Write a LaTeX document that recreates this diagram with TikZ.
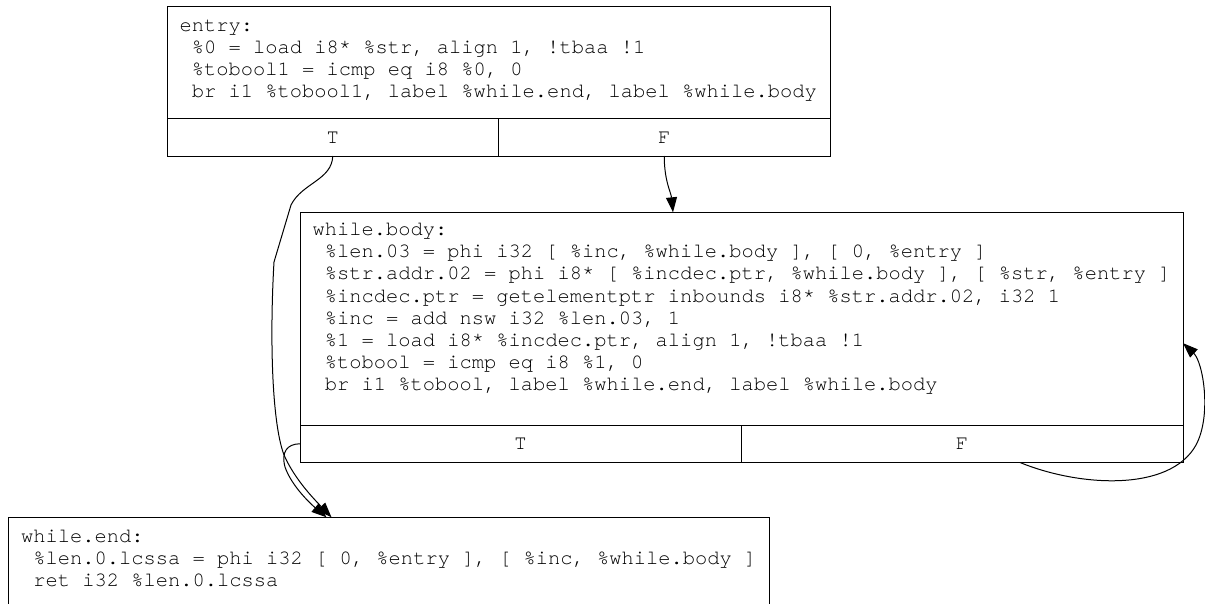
\documentclass[tikz,border=0pt]{standalone}
\usepackage{fontspec}
\setmonofont{TeX Gyre Cursor}
\usetikzlibrary{positioning,arrows.meta}
\newcommand{\irfont}{\ttfamily\fontsize{20.43pt}{22.2pt}\selectfont}
\begin{document}
\begin{tikzpicture} [x=1pt, y=-1pt, line width=1pt]
    \tikzstyle{every node} = [inner sep=0pt, outer sep=0pt, font=\irfont]
    \tikzstyle{block} = [draw, rectangle, anchor=north west]
    \tikzstyle{cell} = [draw, rectangle, minimum height=37.5pt]
    \tikzstyle{code} = [align=left, anchor=north west]
    \tikzstyle{edge} = [-{Triangle[length=15pt, width=11pt]}, line width=1pt]
    \useasboundingbox (0,0) rectangle (1205,603);
    \clip (0,0) rectangle (1205,603);

    % entry
    \node [block, minimum width=663pt, minimum height=112pt] (entry) at (167,6.5) {};
    \node [code] (entrycode) at ([shift={(12.5,9)}]entry.north west)
        {\strut entry:\\
         ~\%0 = load i8* \%str, align 1, !tbaa !1\\
         ~\%tobool1 = icmp eq i8 \%0, 0\\
         ~br i1 \%tobool1, label \%while.end, label \%while.body};
    \node [cell, minimum width=331.5pt, below right=0pt and 0pt of entry.south west] (entryT) {T};
    \node [cell, minimum width=331.5pt, right=0pt of entryT] (entryF) {F};

    % while.body
    \node [block, minimum width=883pt, minimum height=212.7pt] (whilebody) at (300,212.3) {};
    \node [code] (whilebodycode) at ([shift={(12.5,7.7)}]whilebody.north west)
        {\strut while.body:\\
         ~\%len.03 = phi i32 [ \%inc, \%while.body ], [ 0, \%entry ]\\
         ~\%str.addr.02 = phi i8* [ \%incdec.ptr, \%while.body ], [ \%str, \%entry ]\\
         ~\%incdec.ptr = getelementptr inbounds i8* \%str.addr.02, i32 1\\
         ~\%inc = add nsw i32 \%len.03, 1\\
         ~\%1 = load i8* \%incdec.ptr, align 1, !tbaa !1\\
         ~\%tobool = icmp eq i8 \%1, 0\\
         ~br i1 \%tobool, label \%while.end, label \%while.body};
    \node [cell, minimum width=441pt, below right=0pt and 0pt of whilebody.south west] (whilebodyT) {T};
    \node [cell, minimum width=442pt, right=0pt of whilebodyT] (whilebodyF) {F};

    % while.end
    \node [block, minimum width=760.5pt, minimum height=110pt] (whileend) at (8.5,517.3) {};
    \node [code] (whileendcode) at ([shift={(12.5,9.5)}]whileend.north west)
        {\strut while.end:\\
         ~\%len.0.lcssa = phi i32 [ 0, \%entry ], [ \%inc, \%while.body ]\\
         ~ret i32 \%len.0.lcssa};

    \coordinate (endinA) at ([xshift=323pt]whileend.north west);
    \coordinate (endinB) at ([xshift=318pt]whileend.north west);
    \coordinate (bodyin) at ([xshift=373pt]whilebody.north west);
    \coordinate (loopout) at ([xshift=58pt]whilebodyF.south);
    \coordinate (loopin) at ([yshift=-24.5pt]whilebody.east);

    \draw [edge] (entryT.south) .. controls (332,180) and (302,183) .. (291,205)
        -- (274,262) .. controls (270,330) and (271,420) .. (284,455)
        .. controls (295,480) and (315,500) .. (endinA);
    \draw [edge] (whilebodyT.west) .. controls (287,444) and (281,452) .. (285,467)
        .. controls (292,487) and (312,505) .. (endinB);
    \draw [edge] (entryF.south) .. controls +(0,25) and +(-2,-20) .. (bodyin);
    \draw [edge] (loopout) .. controls (1080,487) and (1170,492) .. (1196,445)
        .. controls (1212,415) and (1203,362) .. (loopin);
\end{tikzpicture}
\end{document}
